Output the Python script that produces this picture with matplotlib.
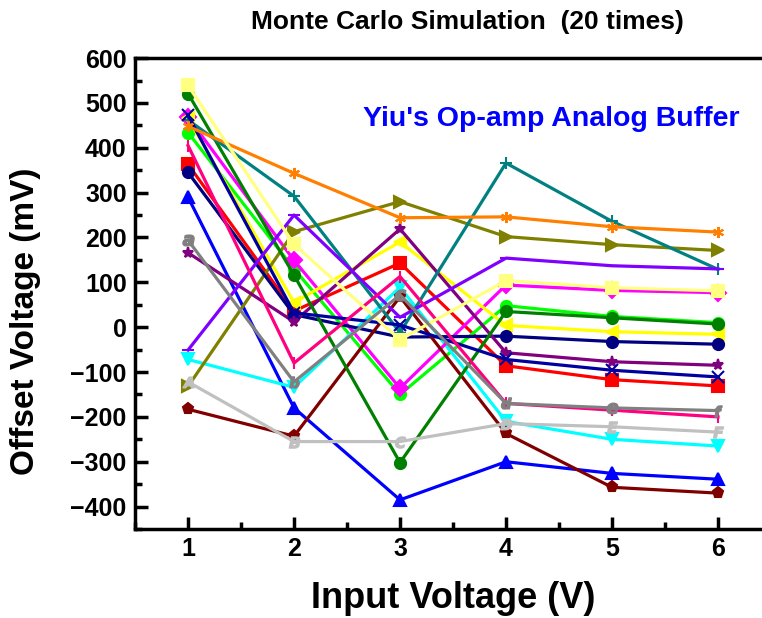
import matplotlib
matplotlib.use('Agg')
import matplotlib.pyplot as plt
from matplotlib.ticker import MultipleLocator

plt.rcParams['font.family'] = ['Liberation Sans', 'DejaVu Sans']
plt.rcParams['font.weight'] = 'bold'

x = [1, 2, 3, 4, 5, 6]

# offset voltage (mV) of each Monte Carlo run
orange = [448, 343, 244, 246, 224, 212]
olive = [-132, 213, 280, 202, 184, 171]
teal = [462, 292, -12, 366, 236, 129]
violet = [-51, 250, 22, 154, 137, 130]
yellow = [466, 55, 190, 4, -10, -16]
lt_yellow = [539, 185, -28, 104, 88, 81]
magenta = [468, 149, -136, 94, 82, 77]
lime = [434, 130, -150, 48, 24, 10]
dk_green = [521, 116, -302, 35, 21, 7]
navy = [345, 28, -22, -20, -32, -38]
royal = [472, 32, 5, -72, -96, -111]
red = [363, 36, 143, -86, -117, -131]
pink = [405, -80, 113, -170, -185, -200]
gray = [194, -122, 72, -170, -180, -186]
cyan = [-72, -134, 89, -210, -250, -265]
wine = [-183, -243, 68, -237, -357, -370]
blue = [290, -180, -385, -300, -326, -339]
lt_gray = [-122, -255, -255, -215, -222, -234]
purple = [166, 12, 219, -57, -77, -85]

gray_letters = ['a', 'b', 'c', 'd', 'e', 'f']
lt_gray_letters = ['A', 'B', 'C', 'D', 'E', 'F']

series = [
    (red, '#ff0000', 's'),
    (lime, '#00ff00', 'o'),
    (blue, '#0000ff', '^'),
    (cyan, '#00ffff', 'v'),
    (magenta, '#ff00ff', 'D'),
    (yellow, '#ffff00', '<'),
    (olive, '#808000', '>'),
    (navy, '#000080', 'o'),
    (purple, '#800080', '*'),
    (wine, '#800000', 'p'),
    (dk_green, '#008000', 'o'),
    (teal, '#008080', '+'),
    (royal, '#0000a0', 'x'),
    (orange, '#ff8000', (6, 2, 0)),
    (violet, '#8000ff', '_'),
    (pink, '#ff0080', '|'),
    (lt_yellow, '#ffff80', 's'),
]

fig = plt.figure(figsize=(7.62, 6.18), dpi=100)
ax = fig.add_axes([0.1772, 0.144, 0.8346, 0.762])

for vals, col, mk in series:
    ax.plot(x, vals, color=col, linewidth=2.3, marker=mk, markersize=8,
            markeredgewidth=1.5, markeredgecolor=col, markerfacecolor=col)

for vals, col, letters in [(gray, '#808080', gray_letters), (lt_gray, '#c0c0c0', lt_gray_letters)]:
    ax.plot(x, vals, color=col, linewidth=2.3)
    for xi, yi, ch in zip(x, vals, letters):
        ax.plot(xi, yi, marker='$' + ch + '$', color=col, markersize=8, linestyle='none')

ax.set_xlim(0.5, 6.5)
ax.set_ylim(-450, 600)
ax.set_xticks(x)
ax.set_yticks(range(-400, 601, 100))
ax.xaxis.set_minor_locator(MultipleLocator(0.5))
ax.yaxis.set_minor_locator(MultipleLocator(50))
ax.tick_params(which='major', direction='in', length=9, width=2.5, labelsize=18, pad=6)
ax.tick_params(which='minor', direction='in', length=5, width=2.5)
for lab in ax.get_xticklabels() + ax.get_yticklabels():
    lab.set_fontweight('bold')
for sp in ax.spines.values():
    sp.set_linewidth(2.5)

ax.set_xlabel('Input Voltage (V)', fontsize=26, fontweight='bold', labelpad=14)
ax.set_ylabel('Offset Voltage (mV)', fontsize=24, fontweight='bold')
ax.yaxis.set_label_coords(-0.148, 0.44)
fig.text(0.613, 0.965, 'Monte Carlo Simulation  (20 times)', fontsize=19,
         fontweight='bold', ha='center', va='center')
ax.text(0.358, 0.87, "Yiu's Op-amp Analog Buffer", transform=ax.transAxes,
        fontsize=20.5, fontweight='bold', color='#0000ff', ha='left', va='center')

fig.savefig('out.png', dpi=100)
